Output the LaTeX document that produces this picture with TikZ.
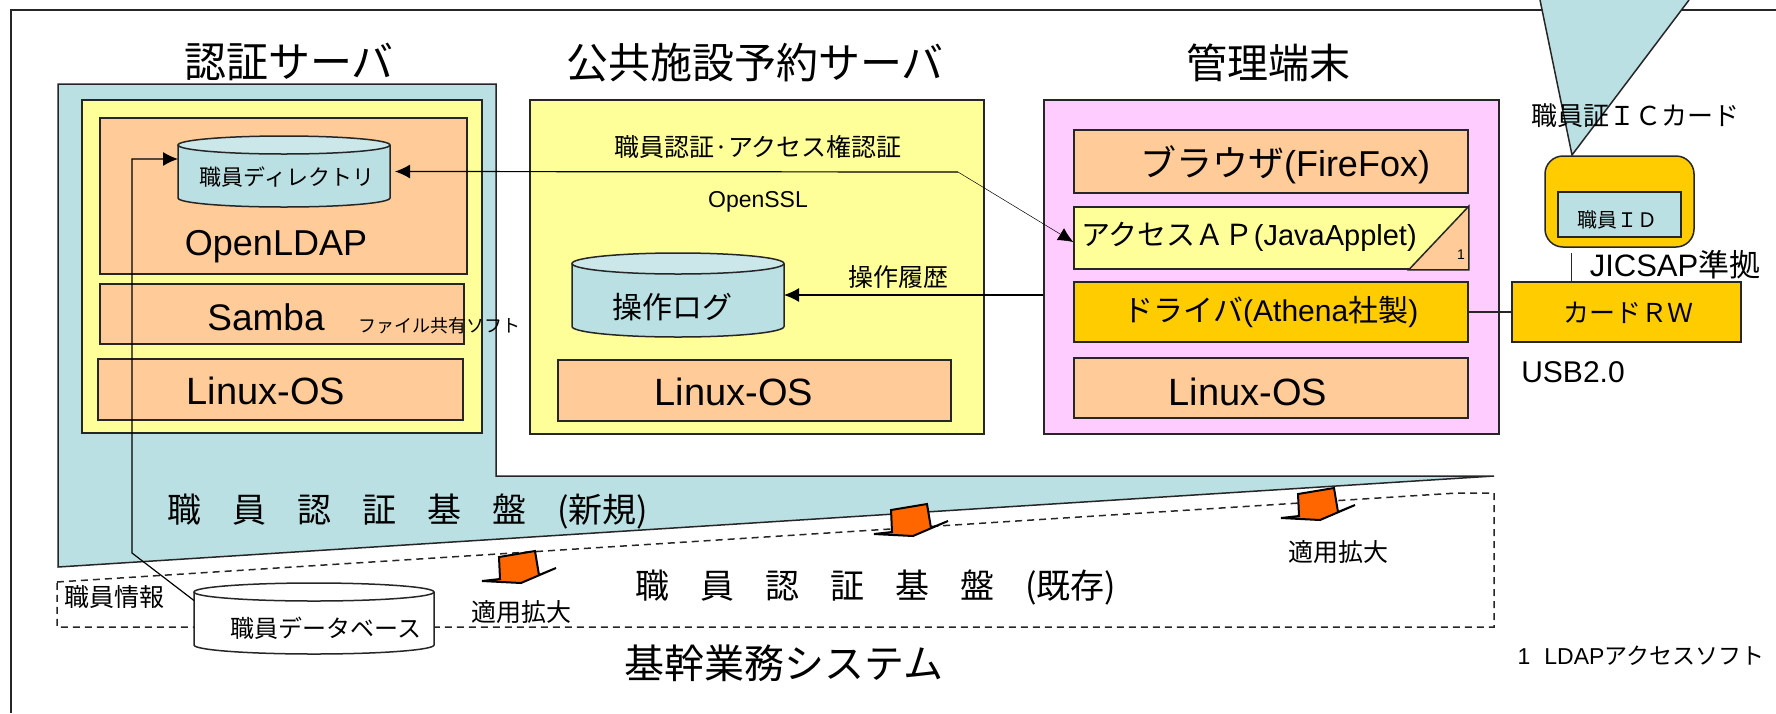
\documentclass[tikz,border=0pt]{standalone}
\usepackage{fontspec}
\setmainfont{Liberation Sans}
\newfontfamily\jpfont{Noto Sans CJK JP}
\newcommand{\jp}[1]{{\jpfont #1}}
% node name, x radius, y radius, body fill, end fill
\newcommand{\drumshape}[5]{
    \draw[line, fill=#4] ([yshift=-#3pt]#1.north west) -- ([yshift=#3pt]#1.south west)
        arc[start angle=180, end angle=360, x radius=#2pt, y radius=#3pt]
        -- ([yshift=-#3pt]#1.north east);
    \draw[line, fill=#5] ([yshift=-#3pt]#1.north) ellipse[x radius=#2pt, y radius=#3pt];
}
\usetikzlibrary{shapes.geometric, arrows.meta, positioning}
\definecolor{kiban}{HTML}{BBE0E3}
\definecolor{kibantop}{HTML}{CBE7EA}
\definecolor{server}{HTML}{FFFF99}
\definecolor{soft}{HTML}{FFCC99}
\definecolor{client}{HTML}{FFCCFF}
\definecolor{device}{HTML}{FFCC00}
\definecolor{expand}{HTML}{FF6600}

\begin{document}
\begin{tikzpicture}[
    x=1pt, y=-1pt,
    line/.style={draw=black!85, line width=1.5pt},
    panel/.style={rectangle, line, inner sep=0pt},
    drum/.style={rectangle, inner sep=0pt, outer sep=0pt},
    latin/.style={inner sep=0pt, font=\fontsize{#1}{#1}\selectfont},
    jatext/.style={inner sep=0pt, font=\jpfont\fontsize{#1}{#1}\selectfont},
    wide/.style={execute at begin node={\spaceskip=#1pt}},
    arrow/.style={-{Latex[length=15pt,width=14pt]}, draw=black, line width=1.2pt}
]
\useasboundingbox (0,0) rectangle (1776,713);

% Outer frame and card reader callout
\draw[line] (11,713) -- (11,10) -- (1776,10);
\fill[kiban] (1540,0) -- (1572,155) -- (1689,0) -- cycle;
\draw[line] (1540,0) -- (1572,155) -- (1689,0);

% Existing and new platforms
\draw[line, dash pattern=on 7pt off 5pt] (57,582) -- (1457,493) -- (1494,493) -- (1494,627) -- (57,627) -- cycle;
\draw[line, fill=kiban] (58,84) -- (496,84) -- (496,476) -- (1494,476) -- (58,567) -- cycle;

% Auth server
\node[jatext=42] (authttl) at (289,62) {認証サーバ};
\node[panel, fill=server, minimum width=400pt, minimum height=333pt] (authsrv) at (282,266.5) {};
\node[panel, fill=soft, minimum width=367pt, minimum height=156pt] (ldap) at (283.5,196) {};
\node[panel, fill=soft, minimum width=364pt, minimum height=60pt] (samba) at (282,314) {};
\node[panel, fill=soft, minimum width=365pt, minimum height=61pt] (linuxa) at (280.5,389.5) {};
\node[drum, minimum width=212pt, minimum height=71pt] (dir) at (284,171.5) {};
\drumshape{dir}{106}{9}{kiban}{kibantop}
\node[jatext=22] (dirttl) at (287,177) {職員ディレクトリ};
\node[latin=36] (ldapttl) at (276,247) {OpenLDAP};
\node[latin=37] (sambattl) at (266,317) {Samba};
\node[jatext=18] (sambanote) at (439,326) {ファイル共有ソフト};
\node[latin=38] (linuxattl) at (266,391) {Linux-OS};

% Reservation server
\node[jatext=42] (resvttl) at (755,63) {公共施設予約サーバ};
\node[panel, fill=server, minimum width=454pt, minimum height=334pt] (resvsrv) at (757,267) {};
\node[panel, fill=soft, minimum width=393pt, minimum height=61pt] (linuxb) at (754.5,390.5) {};
\node[drum, minimum width=212pt, minimum height=84pt] (oplog) at (678,295) {};
\drumshape{oplog}{106}{10.5}{kiban}{kibantop}
\node[jatext=30] (oplogttl) at (672,307) {操作ログ};
\node[jatext=25] (authnote) at (758,147) {職員認証·アクセス権認証};
\node[latin=23] (sslttl) at (758,202) {OpenSSL};
\node[latin=38] (linuxbttl) at (734,392) {Linux-OS};
\node[jatext=25] (histttl) at (898,277) {操作履歴};

% Admin terminal
\node[jatext=41] (termttl) at (1268,63) {管理端末};
\node[panel, fill=client, minimum width=455pt, minimum height=334pt] (term) at (1271.5,267) {};
\node[panel, fill=soft, minimum width=394pt, minimum height=63pt] (browser) at (1271,161.5) {};
\node[panel, fill=server, minimum width=394pt, minimum height=62pt] (access) at (1271,238) {};
\node[panel, fill=device, minimum width=394pt, minimum height=60pt] (driver) at (1271,312) {};
\node[panel, fill=soft, minimum width=394pt, minimum height=60pt] (linuxc) at (1271,388) {};
\draw[line, fill=soft] (access.south east) -- (access.north east) -- ([xshift=-60pt]access.south east) -- cycle;
\node[latin=36] (browserttl) at (1285,165) {\jp{ブラウザ}(FireFox)};
\node[latin=29] (accessttl) at (1249,237) {\jp{アクセスＡＰ}(JavaApplet)};
\node[latin=14] (accessnote) at (1461,255) {1};
\node[latin=30] (driverttl) at (1271,312) {\jp{ドライバ}(Athena\jp{社製})};
\node[latin=38] (linuxcttl) at (1248,392) {Linux-OS};

% IC card and reader
\node[panel, fill=device, rounded corners=18pt, minimum width=149pt, minimum height=91pt] (card) at (1619.5,201.5) {};
\node[panel, fill=kiban, minimum width=123pt, minimum height=45pt] (staffid) at (1619.5,214.5) {};
\node[panel, fill=device, minimum width=229pt, minimum height=60pt] (reader) at (1626.5,312) {};
\coordinate (jicsap) at (1571,253);
\node[jatext=26] (cardttl) at (1635,116) {職員証ＩＣカード};
\node[jatext=20] (staffidttl) at (1617,220) {職員ＩＤ};
\node[jatext=26] (readerttl) at (1628,313) {カードＲＷ};
\node[latin=31] (jicsapttl) at (1675,265) {JICSAP\jp{準拠}};
\node[latin=30] (usbttl) at (1573,372) {USB2.0};
\node[latin=23] (footnote) at (1641,656) {1\hspace{14pt}LDAP\jp{アクセスソフト}};

% Platform labels
\node[jatext=34, wide=31] (newttl) at (408,512) {職 員 認 証 基 盤 (新規)};
\node[jatext=34, wide=31] (oldttl) at (876,588) {職 員 認 証 基 盤 (既存)};
\node[jatext=40] (corettl) at (784,663) {基幹業務システム};
\node[jatext=25] (infottl) at (114,597) {職員情報};
\node[jatext=25] (expandttla) at (521,612) {適用拡大};
\node[jatext=25] (expandttlb) at (1338,552) {適用拡大};

% Staff database
\node[drum, minimum width=240pt, minimum height=71pt] (db) at (314,618.5) {};
\drumshape{db}{120}{9}{white}{white}
\node[jatext=24] (dbttl) at (326,628) {職員データベース};

% Expansion arrows
\foreach \px/\py in {499/557, 891/510, 1298/494}
    \draw[shift={(\px,\py)}, draw=black, line width=2pt, fill=expand, miter limit=2]
        (0,0) -- (36,-6) -- (40,18) -- (57,11) -- (22,26) -- (-17,24) -- (1,22) -- cycle;

% Connectors
\coordinate (dbbend) at (132,553);
\coordinate (dirbend) at (132,159);
\coordinate (sslbend) at (958,172);
\draw[arrow] ([yshift=18pt]db.west) -- (dbbend) -- (dirbend) -- ([yshift=12.5pt]dir.west);
\draw[arrow] (sslbend) -- ([xshift=5pt]dir.east);
\draw[-{Latex[length=15pt,width=14pt]}, draw=black, line width=0.5pt] (sslbend) -- ([yshift=-4pt]access.west);
\draw[arrow] (term.west |- oplog.east) -- (oplog.east);
\draw[line] (driver.east) -- (reader.west);
\draw[draw=black!85, line width=1pt] (jicsap) -- (jicsap |- reader.north);

\end{tikzpicture}
\end{document}
